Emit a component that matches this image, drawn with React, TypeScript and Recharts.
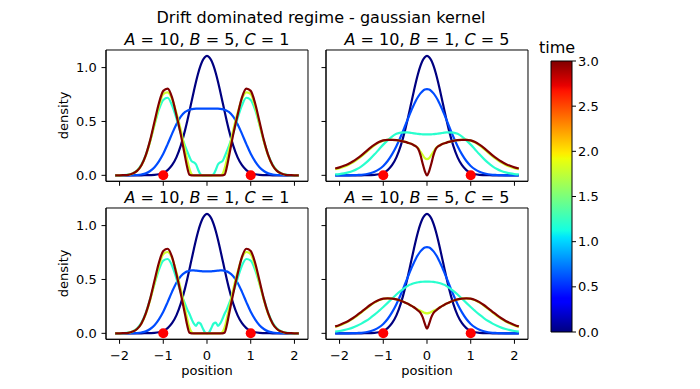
import { ComposedChart, Line, Scatter, Bar, XAxis, YAxis, ReferenceArea } from 'recharts';

// grid of positions the densities are sampled on (finer near the centre)
const positions = [
  -2.1, -2.0, -1.9, -1.8, -1.7, -1.6, -1.5, -1.4, -1.3, -1.2, -1.1, -1.0, -0.9, -0.8, -0.7, -0.6,
  -0.5, -0.45, -0.4, -0.35, -0.3, -0.25, -0.2, -0.15, -0.1, -0.05, 0,
  0.05, 0.1, 0.15, 0.2, 0.25, 0.3, 0.35, 0.4, 0.45, 0.5,
  0.6, 0.7, 0.8, 0.9, 1.0, 1.1, 1.2, 1.3, 1.4, 1.5, 1.6, 1.7, 1.8, 1.9, 2.0, 2.1,
];

// t = 0, same start in every panel
const initialDensity = [
  0, 0, 0, 0, 0, 0, 0, 0.001, 0.002, 0.004, 0.01, 0.023, 0.049, 0.094, 0.167, 0.276,
  0.422, 0.507, 0.598, 0.691, 0.783, 0.871, 0.95, 1.016, 1.066, 1.097, 1.108,
  1.097, 1.066, 1.016, 0.95, 0.871, 0.783, 0.691, 0.598, 0.507, 0.422,
  0.276, 0.167, 0.094, 0.049, 0.023, 0.01, 0.004, 0.002, 0.001, 0, 0, 0, 0, 0, 0, 0,
];

// A=10, B=5, C=1
const b5c1Time06 = [
  0, 0, 0, 0, 0.001, 0.003, 0.008, 0.018, 0.04, 0.075, 0.13, 0.2, 0.29, 0.385, 0.475, 0.545,
  0.588, 0.6, 0.608, 0.614, 0.617, 0.619, 0.62, 0.62, 0.62, 0.62, 0.62,
  0.62, 0.62, 0.62, 0.62, 0.619, 0.617, 0.614, 0.608, 0.6, 0.588,
  0.545, 0.475, 0.385, 0.29, 0.2, 0.13, 0.075, 0.04, 0.018, 0.008, 0.003, 0.001, 0, 0, 0, 0,
];
const b5c1Time12 = [
  0, 0.001, 0.002, 0.006, 0.018, 0.045, 0.1, 0.19, 0.32, 0.47, 0.61, 0.7, 0.72, 0.65, 0.53, 0.39,
  0.27, 0.22, 0.17, 0.13, 0.12, 0.1, 0.05, 0.01, 0, 0, 0,
  0, 0, 0.01, 0.05, 0.1, 0.12, 0.13, 0.17, 0.22, 0.27,
  0.39, 0.53, 0.65, 0.72, 0.7, 0.61, 0.47, 0.32, 0.19, 0.1, 0.045, 0.018, 0.006, 0.002, 0.001, 0,
];
const b5c1Time18 = [
  0, 0, 0.002, 0.005, 0.016, 0.041, 0.092, 0.183, 0.315, 0.475, 0.64, 0.755, 0.77, 0.71, 0.58, 0.42,
  0.23, 0.14, 0.06, 0.01, 0, 0, 0, 0, 0, 0, 0,
  0, 0, 0, 0, 0, 0, 0.01, 0.06, 0.14, 0.23,
  0.42, 0.58, 0.71, 0.77, 0.755, 0.64, 0.475, 0.315, 0.183, 0.092, 0.041, 0.016, 0.005, 0.002, 0, 0,
];
const b5c1Time30 = [
  0, 0, 0.002, 0.005, 0.016, 0.041, 0.094, 0.188, 0.327, 0.5, 0.669, 0.784, 0.805, 0.724, 0.56, 0.38,
  0.17, 0.07, 0.005, 0, 0, 0, 0, 0, 0, 0, 0,
  0, 0, 0, 0, 0, 0, 0, 0.005, 0.07, 0.17,
  0.38, 0.56, 0.724, 0.805, 0.784, 0.669, 0.5, 0.327, 0.188, 0.094, 0.041, 0.016, 0.005, 0.002, 0, 0,
];

// A=10, B=1, C=5
const b1c5Time06 = [
  0, 0, 0, 0, 0.001, 0.003, 0.005, 0.01, 0.019, 0.033, 0.055, 0.087, 0.133, 0.194, 0.27, 0.36,
  0.46, 0.511, 0.561, 0.61, 0.655, 0.697, 0.732, 0.761, 0.782, 0.796, 0.8,
  0.796, 0.782, 0.761, 0.732, 0.697, 0.655, 0.61, 0.561, 0.511, 0.46,
  0.36, 0.27, 0.194, 0.133, 0.087, 0.055, 0.033, 0.019, 0.01, 0.005, 0.003, 0.001, 0, 0, 0, 0,
];
const b1c5Time12 = [
  0.008, 0.012, 0.018, 0.027, 0.04, 0.059, 0.084, 0.115, 0.153, 0.195, 0.24, 0.285, 0.325, 0.36, 0.385, 0.397,
  0.399, 0.398, 0.396, 0.393, 0.39, 0.387, 0.384, 0.382, 0.381, 0.38, 0.38,
  0.38, 0.381, 0.382, 0.384, 0.387, 0.39, 0.393, 0.396, 0.398, 0.399,
  0.397, 0.385, 0.36, 0.325, 0.285, 0.24, 0.195, 0.153, 0.115, 0.084, 0.059, 0.04, 0.027, 0.018, 0.012, 0.008,
];
const b1c5Time18 = [
  0.057, 0.067, 0.08, 0.097, 0.118, 0.145, 0.176, 0.21, 0.246, 0.278, 0.305, 0.322, 0.33, 0.33, 0.327, 0.32,
  0.31, 0.304, 0.297, 0.29, 0.28, 0.268, 0.25, 0.22, 0.19, 0.16, 0.15,
  0.16, 0.19, 0.22, 0.25, 0.268, 0.28, 0.29, 0.297, 0.304, 0.31,
  0.32, 0.327, 0.33, 0.33, 0.322, 0.305, 0.278, 0.246, 0.21, 0.176, 0.145, 0.118, 0.097, 0.08, 0.067, 0.057,
];
const b1c5Time30 = [
  0.063, 0.074, 0.088, 0.106, 0.128, 0.155, 0.185, 0.22, 0.255, 0.285, 0.31, 0.325, 0.33, 0.33, 0.327, 0.32,
  0.31, 0.304, 0.297, 0.29, 0.28, 0.268, 0.245, 0.19, 0.11, 0.04, 0,
  0.04, 0.11, 0.19, 0.245, 0.268, 0.28, 0.29, 0.297, 0.304, 0.31,
  0.32, 0.327, 0.33, 0.33, 0.325, 0.31, 0.285, 0.255, 0.22, 0.185, 0.155, 0.128, 0.106, 0.088, 0.074, 0.063,
];

// A=10, B=1, C=1
const b1c1Time06 = [
  0, 0, 0, 0, 0.001, 0.003, 0.008, 0.018, 0.04, 0.075, 0.13, 0.2, 0.29, 0.385, 0.47, 0.53,
  0.565, 0.575, 0.58, 0.584, 0.584, 0.582, 0.58, 0.578, 0.576, 0.575, 0.575,
  0.575, 0.576, 0.578, 0.58, 0.582, 0.584, 0.584, 0.58, 0.575, 0.565,
  0.53, 0.47, 0.385, 0.29, 0.2, 0.13, 0.075, 0.04, 0.018, 0.008, 0.003, 0.001, 0, 0, 0, 0,
];
const b1c1Time12 = [
  0, 0.001, 0.002, 0.006, 0.018, 0.045, 0.1, 0.19, 0.32, 0.46, 0.59, 0.675, 0.69, 0.63, 0.51, 0.38,
  0.27, 0.22, 0.18, 0.13, 0.09, 0.07, 0.1, 0.09, 0.05, 0.01, 0,
  0.01, 0.05, 0.09, 0.1, 0.07, 0.09, 0.13, 0.18, 0.22, 0.27,
  0.38, 0.51, 0.63, 0.69, 0.675, 0.59, 0.46, 0.32, 0.19, 0.1, 0.045, 0.018, 0.006, 0.002, 0.001, 0,
];
const b1c1Time18 = [
  0, 0, 0.002, 0.005, 0.016, 0.04, 0.089, 0.178, 0.31, 0.465, 0.625, 0.735, 0.755, 0.7, 0.57, 0.41,
  0.22, 0.13, 0.05, 0.01, 0, 0, 0, 0, 0, 0, 0,
  0, 0, 0, 0, 0, 0, 0.01, 0.05, 0.13, 0.22,
  0.41, 0.57, 0.7, 0.755, 0.735, 0.625, 0.465, 0.31, 0.178, 0.089, 0.04, 0.016, 0.005, 0.002, 0, 0,
];
const b1c1Time30 = [
  0, 0, 0.002, 0.005, 0.016, 0.04, 0.092, 0.185, 0.32, 0.49, 0.655, 0.765, 0.785, 0.71, 0.55, 0.37,
  0.17, 0.07, 0.005, 0, 0, 0, 0, 0, 0, 0, 0,
  0, 0, 0, 0, 0, 0, 0, 0.005, 0.07, 0.17,
  0.37, 0.55, 0.71, 0.785, 0.765, 0.655, 0.49, 0.32, 0.185, 0.092, 0.04, 0.016, 0.005, 0.002, 0, 0,
];

// A=10, B=5, C=5
const b5c5Time06 = [
  0, 0, 0, 0, 0.001, 0.003, 0.005, 0.01, 0.019, 0.033, 0.055, 0.087, 0.133, 0.194, 0.27, 0.36,
  0.46, 0.511, 0.561, 0.61, 0.655, 0.697, 0.732, 0.761, 0.782, 0.796, 0.8,
  0.796, 0.782, 0.761, 0.732, 0.697, 0.655, 0.61, 0.561, 0.511, 0.46,
  0.36, 0.27, 0.194, 0.133, 0.087, 0.055, 0.033, 0.019, 0.01, 0.005, 0.003, 0.001, 0, 0, 0, 0,
];
const b5c5Time12 = [
  0.016, 0.022, 0.03, 0.04, 0.053, 0.07, 0.09, 0.114, 0.142, 0.173, 0.208, 0.245, 0.283, 0.322, 0.36, 0.395,
  0.425, 0.438, 0.45, 0.458, 0.465, 0.47, 0.474, 0.477, 0.479, 0.48, 0.48,
  0.48, 0.479, 0.477, 0.474, 0.47, 0.465, 0.458, 0.45, 0.438, 0.425,
  0.395, 0.36, 0.322, 0.283, 0.245, 0.208, 0.173, 0.142, 0.114, 0.09, 0.07, 0.053, 0.04, 0.03, 0.022, 0.016,
];
const b5c5Time18 = [
  0.06, 0.073, 0.09, 0.11, 0.134, 0.162, 0.194, 0.226, 0.258, 0.285, 0.307, 0.32, 0.325, 0.323, 0.315, 0.302,
  0.285, 0.276, 0.266, 0.255, 0.242, 0.228, 0.218, 0.21, 0.2, 0.19, 0.185,
  0.19, 0.2, 0.21, 0.218, 0.228, 0.242, 0.255, 0.266, 0.276, 0.285,
  0.302, 0.315, 0.323, 0.325, 0.32, 0.307, 0.285, 0.258, 0.226, 0.194, 0.162, 0.134, 0.11, 0.09, 0.073, 0.06,
];
const b5c5Time30 = [
  0.064, 0.078, 0.095, 0.115, 0.14, 0.168, 0.2, 0.232, 0.263, 0.29, 0.31, 0.322, 0.325, 0.323, 0.315, 0.302,
  0.285, 0.276, 0.266, 0.255, 0.242, 0.227, 0.21, 0.19, 0.15, 0.09, 0.045,
  0.09, 0.15, 0.19, 0.21, 0.227, 0.242, 0.255, 0.266, 0.276, 0.285,
  0.302, 0.315, 0.323, 0.325, 0.322, 0.31, 0.29, 0.263, 0.232, 0.2, 0.168, 0.14, 0.115, 0.095, 0.078, 0.064,
];

// red markers at the two attracting points
const attractors = [
  { x: -1, y: 0 },
  { x: 1, y: 0 },
];

const positionTicks = [-2, -1, 0, 1, 2];
const densityTicks = [0, 0.5, 1.0];
const timeTicks = [0, 0.5, 1.0, 1.5, 2.0, 2.5, 3.0];
const timeRange = [{ name: 'time', tmax: 3.0 }];

// jet colormap stops (offset, colour) for the colorbar
const jetStops: [number, string][] = [
  [0, '#000080'],
  [0.11, '#0000ff'],
  [0.125, '#0000ff'],
  [0.34, '#00dbff'],
  [0.35, '#00e5fb'],
  [0.375, '#14ffe2'],
  [0.64, '#eeff08'],
  [0.65, '#f7f500'],
  [0.66, '#ffec00'],
  [0.89, '#ff1300'],
  [0.91, '#e80000'],
  [1, '#800000'],
];

const SERIES_COLORS = ['#000080', '#004cff', '#29ffce', '#ceff29', '#800000'];
const SERIES_KEYS = ['t00', 't06', 't12', 't18', 't30'];

const FONT = 'DejaVu Sans';
const X_DOMAIN: [number, number] = [-2.31, 2.31];
const Y_DOMAIN: [number, number] = [-0.0554, 1.1634];
const PLOT_W = 202;
const PLOT_H = 131.3;
const Y_AXIS_W = 50;
const X_AXIS_H = 32;

const fmtPos = (v: number) => (v < 0 ? '\u2212' + Math.abs(v) : String(v));
const fmtOne = (v: number) => v.toFixed(1);
const blank = () => '';

interface PanelProps {
  series: number[][];
  left: number;
  top: number;
  showX: boolean;
  showY: boolean;
}

function DensityPanel({ series, left, top, showX, showY }: PanelProps) {
  const rows = positions.map((x, i) => {
    const row: Record<string, number> = { x, t00: initialDensity[i] };
    series.forEach((s, k) => {
      row[SERIES_KEYS[k + 1]] = s[i];
    });
    return row;
  });

  return (
    <div style={{ position: 'absolute', left: left - Y_AXIS_W, top: top - 2 }}>
      <ComposedChart
        width={Y_AXIS_W + PLOT_W + 2}
        height={2 + PLOT_H + X_AXIS_H}
        data={rows}
        margin={{ top: 2, right: 2, bottom: 0, left: 0 }}
      >
        <XAxis
          dataKey="x"
          type="number"
          domain={X_DOMAIN}
          ticks={positionTicks}
          interval={0}
          allowDataOverflow
          height={X_AXIS_H}
          tickSize={4.5}
          tickMargin={7}
          tickFormatter={showX ? fmtPos : blank}
          axisLine={{ stroke: '#000' }}
          tickLine={{ stroke: '#000' }}
          tick={{ fill: '#000', fontSize: 13, fontFamily: FONT }}
        />
        <YAxis
          type="number"
          domain={Y_DOMAIN}
          ticks={densityTicks}
          interval={0}
          allowDataOverflow
          width={Y_AXIS_W}
          tickSize={4.5}
          tickMargin={4.8}
          tickFormatter={showY ? fmtOne : blank}
          axisLine={{ stroke: '#000' }}
          tickLine={{ stroke: '#000' }}
          tick={{ fill: '#000', fontSize: 13, fontFamily: FONT }}
        />
        <ReferenceArea
          x1={X_DOMAIN[0]}
          x2={X_DOMAIN[1]}
          y1={Y_DOMAIN[0]}
          y2={Y_DOMAIN[1]}
          fill="none"
          stroke="#000"
          strokeWidth={1}
        />
        {SERIES_KEYS.map((key, k) => (
          <Line
            key={key}
            type="monotone"
            dataKey={key}
            stroke={SERIES_COLORS[k]}
            strokeWidth={2.2}
            dot={false}
            isAnimationActive={false}
          />
        ))}
        <Scatter
          data={attractors}
          dataKey="y"
          isAnimationActive={false}
          shape={(p: any) => <circle cx={p.cx} cy={p.cy} r={5} fill="#ff0000" />}
        />
      </ComposedChart>
    </div>
  );
}

function ColorBar() {
  return (
    <div style={{ position: 'absolute', left: 549, top: 51 }}>
      <ComposedChart
        width={2 + 21 + 44}
        height={10 + 271 + 10}
        data={timeRange}
        margin={{ top: 10, right: 0, bottom: 10, left: 2 }}
        barCategoryGap={0}
        barGap={0}
      >
        <XAxis hide height={0} dataKey="name" type="category" />
        <YAxis
          orientation="right"
          type="number"
          domain={[0, 3]}
          ticks={timeTicks}
          interval={0}
          width={44}
          tickSize={4}
          tickMargin={2}
          tickFormatter={fmtOne}
          axisLine={false}
          tickLine={{ stroke: '#000' }}
          tick={{ fill: '#000', fontSize: 13, fontFamily: FONT }}
        />
        <Bar dataKey="tmax" fill="url(#jetGradient)" stroke="#000" strokeWidth={1} isAnimationActive={false} />
      </ComposedChart>
    </div>
  );
}

function Title({ x, y, a, b, c }: { x: number; y: number; a: number; b: number; c: number }) {
  return (
    <text x={x} y={y} textAnchor="middle" fontSize={16} fontFamily={FONT} fill="#000">
      <tspan fontStyle="italic">A</tspan>
      {` = ${a}, `}
      <tspan fontStyle="italic">B</tspan>
      {` = ${b}, `}
      <tspan fontStyle="italic">C</tspan>
      {` = ${c}`}
    </text>
  );
}

export default function App() {
  return (
    <div
      style={{
        position: 'absolute',
        left: 0,
        top: 0,
        width: 700,
        height: 389,
        background: '#fff',
        fontFamily: FONT,
        overflow: 'hidden',
      }}
    >
      <svg width={0} height={0} style={{ position: 'absolute' }}>
        <defs>
          <linearGradient id="jetGradient" x1="0" y1="1" x2="0" y2="0">
            {jetStops.map(([o, c]) => (
              <stop key={o} offset={o} stopColor={c} />
            ))}
          </linearGradient>
        </defs>
      </svg>

      <DensityPanel series={[b5c1Time06, b5c1Time12, b5c1Time18, b5c1Time30]} left={106} top={49.7} showX={false} showY />
      <DensityPanel series={[b1c5Time06, b1c5Time12, b1c5Time18, b1c5Time30]} left={326} top={49.7} showX={false} showY={false} />
      <DensityPanel series={[b1c1Time06, b1c1Time12, b1c1Time18, b1c1Time30]} left={106} top={207.7} showX showY />
      <DensityPanel series={[b5c5Time06, b5c5Time12, b5c5Time18, b5c5Time30]} left={326} top={207.7} showX showY={false} />
      <ColorBar />

      <svg width={700} height={389} style={{ position: 'absolute', left: 0, top: 0, pointerEvents: 'none' }}>
        <text x={321} y={23} textAnchor="middle" fontSize={16} fontFamily={FONT} fill="#000">
          Drift dominated regime - gaussian kernel
        </text>
        <Title x={207} y={45} a={10} b={5} c={1} />
        <Title x={427} y={45} a={10} b={1} c={5} />
        <Title x={207} y={203} a={10} b={1} c={1} />
        <Title x={427} y={203} a={10} b={5} c={5} />
        <text x={68} y={115.4} transform="rotate(-90 68 115.4)" textAnchor="middle" fontSize={13} fontFamily={FONT} fill="#000">
          density
        </text>
        <text x={68} y={273.4} transform="rotate(-90 68 273.4)" textAnchor="middle" fontSize={13} fontFamily={FONT} fill="#000">
          density
        </text>
        <text x={207} y={375} textAnchor="middle" fontSize={13} fontFamily={FONT} fill="#000">
          position
        </text>
        <text x={427} y={375} textAnchor="middle" fontSize={13} fontFamily={FONT} fill="#000">
          position
        </text>
        <text x={557} y={53} textAnchor="middle" fontSize={16} fontFamily={FONT} fill="#000">
          time
        </text>
      </svg>
    </div>
  );
}
